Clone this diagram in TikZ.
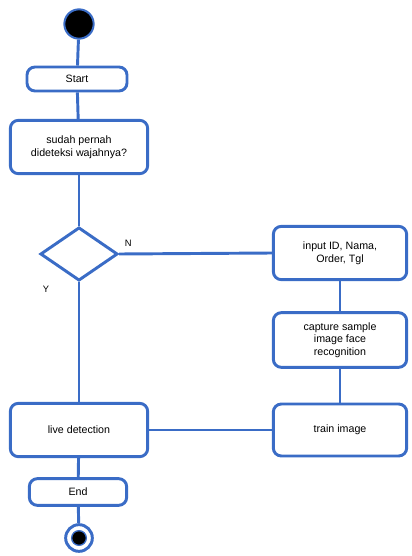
\documentclass[tikz,border=0pt]{standalone}
\usepackage{fontspec}
\setmainfont{Liberation Sans}
\usetikzlibrary{positioning, shapes.geometric}

\definecolor{flowblue}{RGB}{58,108,198}

\begin{document}
\begin{tikzpicture}[
  x=0.75pt, y=-0.75pt,
  act/.style={draw=flowblue, line width=2.2pt, rectangle, rounded corners=6pt, fill=white, align=center, font=\fontsize{8}{9.5}\selectfont, inner sep=2pt},
  decision/.style={draw=flowblue, line width=2.2pt, diamond, fill=white, minimum width=58pt, minimum height=40pt, inner sep=0pt},
  flow/.style={draw=flowblue, line width=2.2pt},
  lbl/.style={font=\fontsize{7}{8}\selectfont}
]
\useasboundingbox (0,0) rectangle (411,556);

% start / end dots
\node[circle, draw=flowblue, line width=1.5pt, fill=black, minimum size=22pt, inner sep=0pt] (initial) at (79,24) {};
\node[circle, draw=flowblue, line width=2.2pt, fill=white, minimum size=20pt, inner sep=0pt] (final) at (79,538) {};
\node[circle, draw=flowblue, line width=1pt, fill=black, minimum size=11pt, inner sep=0pt] (finaldot) at (final) {};

% left column
\node[act, minimum width=75pt, minimum height=18pt] (start) at (77,79) {Start};
\node[act, minimum width=103pt, minimum height=40pt] (check) at (79,147) {sudah pernah\\dideteksi wajahnya?};
\node[decision] (choice) at (79,254) {};
\node[act, minimum width=103pt, minimum height=40pt] (live) at (79,430) {live detection};
\node[act, minimum width=73pt, minimum height=20pt] (end) at (78,492) {End};

% right column
\node[act, minimum width=100pt, minimum height=40pt] (input) at (340,253) {input ID, Nama,\\Order, Tgl};
\node[act, minimum width=100pt, minimum height=41pt] (capture) at (340,340) {capture sample\\image face\\recognition};
\node[act, minimum width=100pt, minimum height=39pt] (train) at (340,430) {train image};

% connectors
\draw[flow] (initial) -- (start);
\draw[flow] (start) -- (check);
\draw[flow] (check) -- (choice);
\draw[flow] (choice.east) -- node[lbl, above=1pt, pos=0.06]{N} (input.west);
\draw[flow] (choice.south) -- node[lbl, pos=0.06, left=18pt]{Y} (live.north);
\draw[flow] (input) -- (capture);
\draw[flow] (capture) -- (train);
\draw[flow] (train.west) -- (live.east);
\draw[flow] (live) -- (end);
\draw[flow] (end) -- (final);

\end{tikzpicture}
\end{document}
